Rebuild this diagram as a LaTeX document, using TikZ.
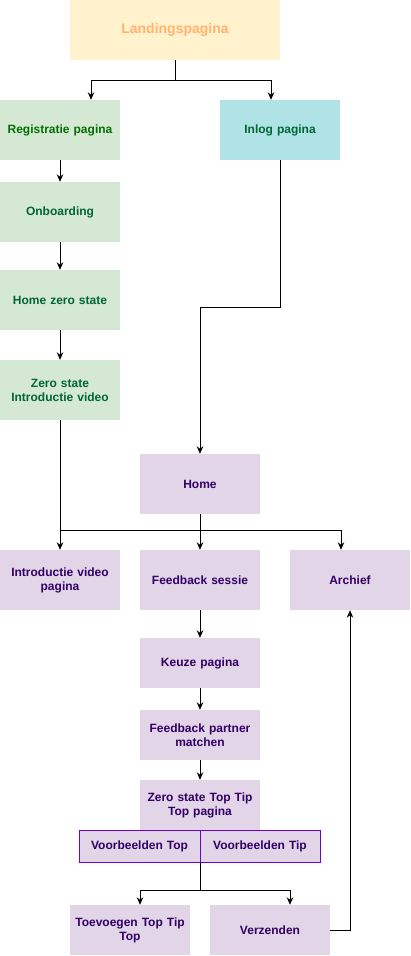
\documentclass[tikz,border=0pt]{standalone}
\usepackage{fontspec}
\setmainfont{Liberation Sans}
\usetikzlibrary{arrows.meta,positioning,calc}
\definecolor{landfill}{HTML}{FFF2CC}
\definecolor{landtext}{HTML}{FFB570}
\definecolor{greenfill}{HTML}{D5E8D4}
\definecolor{greentext}{HTML}{006633}
\definecolor{regtext}{HTML}{007000}
\definecolor{cyanfill}{HTML}{B0E3E6}
\definecolor{purpfill}{HTML}{E1D5E7}
\definecolor{purptext}{HTML}{330066}
\definecolor{purpline}{HTML}{7000D0}
\begin{document}
\begin{tikzpicture}[x=1pt,y=-1pt,
  box/.style={rectangle, inner sep=2pt, align=center, font=\bfseries\fontsize{12}{14}\selectfont, minimum width=120pt, minimum height=60pt, text width=116pt},
  gbox/.style={box, fill=greenfill, text=greentext},
  pbox/.style={box, fill=purpfill, text=purptext},
  vbox/.style={box, fill=purpfill, text=purptext, draw=purpline, line width=1pt, minimum height=32pt},
  arr/.style={draw=black, line width=0.9pt, -{Stealth[length=7.5pt,width=6.5pt]}},
  ln/.style={draw=black, line width=0.9pt}]
\useasboundingbox (0,0) rectangle (411,956);
\node[box, fill=landfill, text=landtext, minimum width=210pt, text width=200pt, font=\bfseries\fontsize{14}{16}\selectfont] (land) at (175,30) {Landingspagina};
\node[gbox, text=regtext] (reg) at (60,130) {Registratie pagina};
\node[box, fill=cyanfill, text=greentext] (inlog) at (280,130) {Inlog pagina};
\node[gbox] (onb) at (60,212) {Onboarding};
\node[gbox] (hzs) at (60,300) {Home zero state};
\node[gbox] (zsv) at (60,390) {Zero state\\Introductie video};
\node[pbox] (home) at (200,484) {Home};
\node[pbox] (intro) at (60,580) {Introductie video\\pagina};
\node[pbox] (fb) at (200,580) {Feedback sessie};
\node[pbox] (arch) at (350,580) {Archief};
\node[pbox, minimum height=50pt] (keuze) at (200,663) {Keuze pagina};
\node[pbox, minimum height=50pt] (match) at (200,735) {Feedback partner\\matchen};
\node[pbox, minimum height=50pt] (zstt) at (200,805) {Zero state Top Tip\\Top pagina};
\node[vbox, minimum width=121pt] (vtop) at (139.5,846) {Voorbeelden Top};
\node[vbox] (vtip) at (260,846) {Voorbeelden Tip};
\node[pbox, minimum height=50pt] (toev) at (130,930) {Toevoegen Top Tip\\Top};
\node[pbox, minimum height=50pt] (verz) at (270,930) {Verzenden};
% connectors
\coordinate (lj) at ($(land.south)+(0,20)$);
\draw[ln] (land.south) -- (lj);
\draw[arr] (lj) -| ([xshift=31]reg.north);
\draw[arr] (lj) -| ([xshift=-9]inlog.north);
\draw[arr] (reg) -- (onb);
\draw[arr] (onb) -- (hzs);
\draw[arr] (hzs) -- (zsv);
\draw[arr] (inlog.south) -- ++(0,147) -| (home.north);
\draw[arr] (zsv.south) -- (intro.north);
\coordinate (hj) at ($(home.south)+(0,16)$);
\draw[arr] (home.south) -- (fb.north);
\draw[arr] (zsv.south |- hj) -| ([xshift=-9]arch.north);
\draw[arr] (fb) -- (keuze);
\draw[arr] (keuze) -- (match);
\draw[arr] (match) -- (zstt);
\coordinate (vj) at (200,890);
\draw[ln] (200,862) -- (vj);
\draw[arr] (vj) -| ([xshift=10]toev.north);
\draw[arr] (vj) -| ([xshift=20]verz.north);
\draw[arr] (verz.east) -| (arch.south);
\end{tikzpicture}
\end{document}
